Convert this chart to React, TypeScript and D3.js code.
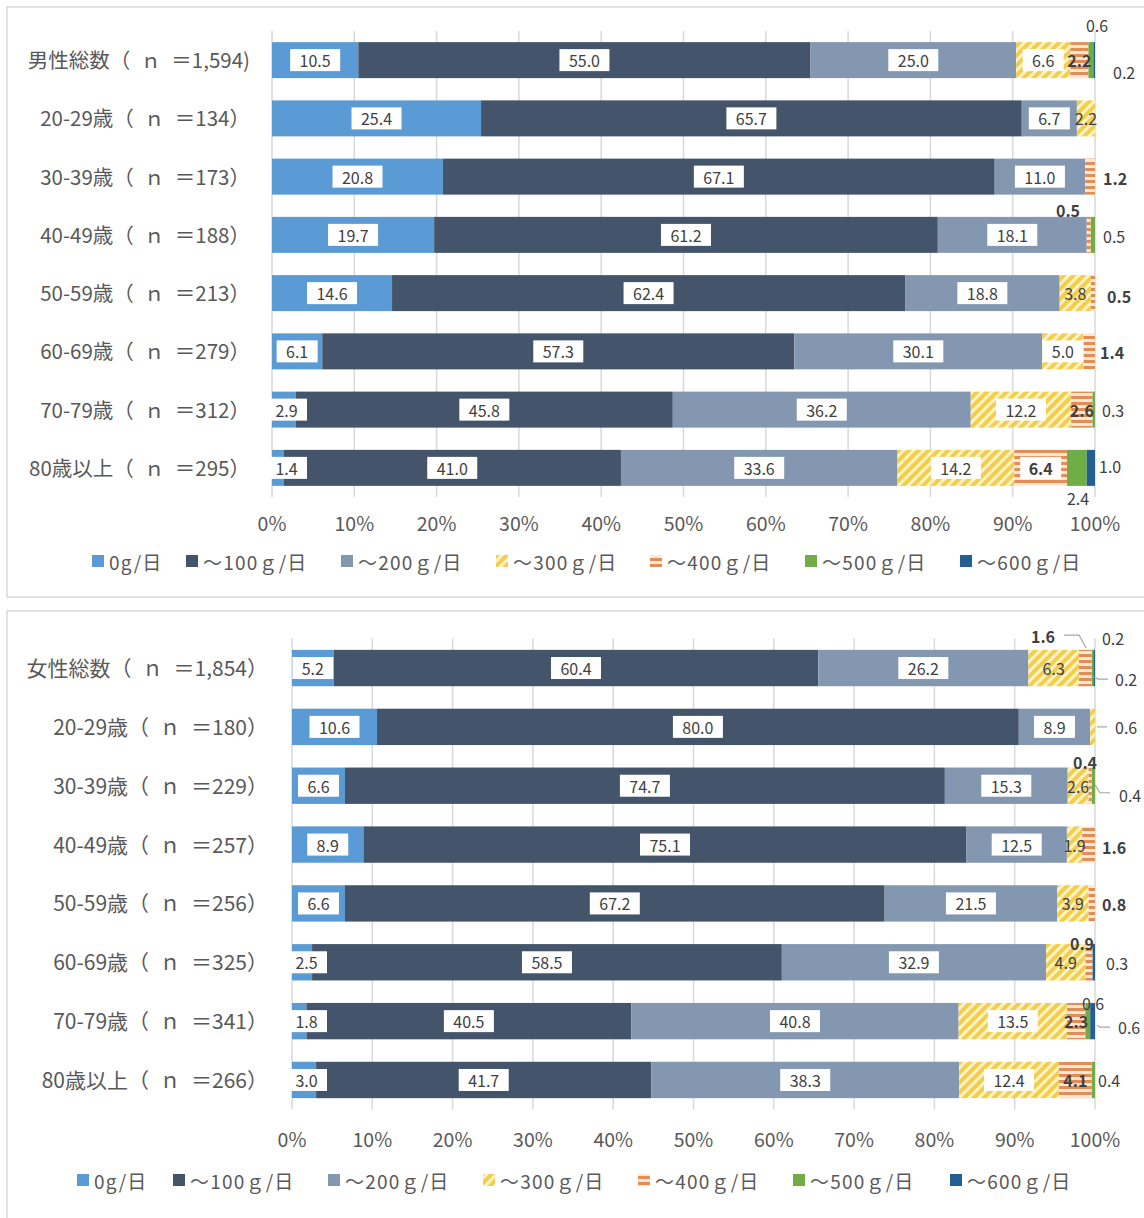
import React from "react";
import * as d3 from "d3";

const SERIES_NAMES = ["0g/日", "～100ｇ/日", "～200ｇ/日", "～300ｇ/日", "～400ｇ/日", "～500ｇ/日", "～600ｇ/日"];
const SERIES_FILLS = ["#5B9BD5", "#44546A", "#8497B0", "url(#pat300)", "url(#pat400)", "#70AD47", "#255E91"];
const TICK_LABELS = ["0%", "10%", "20%", "30%", "40%", "50%", "60%", "70%", "80%", "90%", "100%"];

const MEN_CATEGORIES = [
  "男性総数（\u2002ｎ\u2002＝1,594)",
  "20-29歳（\u2002ｎ\u2002＝134）",
  "30-39歳（\u2002ｎ\u2002＝173）",
  "40-49歳（\u2002ｎ\u2002＝188）",
  "50-59歳（\u2002ｎ\u2002＝213）",
  "60-69歳（\u2002ｎ\u2002＝279）",
  "70-79歳（\u2002ｎ\u2002＝312）",
  "80歳以上（\u2002ｎ\u2002＝295）",
];
const MEN_VALUES = [
  [10.5, 55.0, 25.0, 6.6, 2.2, 0.6, 0.2],
  [25.4, 65.7, 6.7, 2.2, 0, 0, 0],
  [20.8, 67.1, 11.0, 0, 1.2, 0, 0],
  [19.7, 61.2, 18.1, 0, 0.5, 0.5, 0],
  [14.6, 62.4, 18.8, 3.8, 0.5, 0, 0],
  [6.1, 57.3, 30.1, 5.0, 1.4, 0, 0],
  [2.9, 45.8, 36.2, 12.2, 2.6, 0.3, 0],
  [1.4, 41.0, 33.6, 14.2, 6.4, 2.4, 1.0],
];

const WOMEN_CATEGORIES = [
  "女性総数（\u2002ｎ\u2002＝1,854）",
  "20-29歳（\u2002ｎ\u2002＝180）",
  "30-39歳（\u2002ｎ\u2002＝229）",
  "40-49歳（\u2002ｎ\u2002＝257）",
  "50-59歳（\u2002ｎ\u2002＝256）",
  "60-69歳（\u2002ｎ\u2002＝325）",
  "70-79歳（\u2002ｎ\u2002＝341）",
  "80歳以上（\u2002ｎ\u2002＝266）",
];
const WOMEN_VALUES = [
  [5.2, 60.4, 26.2, 6.3, 1.6, 0.2, 0.2],
  [10.6, 80.0, 8.9, 0.6, 0, 0, 0],
  [6.6, 74.7, 15.3, 2.6, 0.4, 0.4, 0],
  [8.9, 75.1, 12.5, 1.9, 1.6, 0, 0],
  [6.6, 67.2, 21.5, 3.9, 0.8, 0, 0],
  [2.5, 58.5, 32.9, 4.9, 0.9, 0, 0.3],
  [1.8, 40.5, 40.8, 13.5, 2.3, 0.6, 0.6],
  [3.0, 41.7, 38.3, 12.4, 4.1, 0.4, 0],
];

// label styles: b = boxed, i = inside plain, x = external, - = none
const MEN_LABEL_MODES = [
  "bbbbixx", "bbbi---", "bbb-x--", "bbb-xx-", "bbbix--", "bbbbx--", "bbbbix-", "bbbbbxx",
];
const WOMEN_LABEL_MODES = [
  "bbbixxx", "bbbx---", "bbbixx-", "bbbix--", "bbbix--", "bbbix-x", "bbbbixx", "bbbbix-",
];

type Ext = { dx: number; dy: number; anchor: string; leader?: [number, number][] };
const MEN_EXT: Record<string, Ext> = {
  "0-5": { dx: 2, dy: -35, anchor: "middle" },
  "0-6": { dx: 18, dy: 12, anchor: "start" },
  "2-4": { dx: 8, dy: 1, anchor: "start" },
  "3-4": { dx: -27, dy: -25, anchor: "middle" },
  "3-5": { dx: 8, dy: 1, anchor: "start" },
  "4-4": { dx: 12, dy: 3, anchor: "start" },
  "5-4": { dx: 5, dy: 1, anchor: "start" },
  "6-5": { dx: 7, dy: 0, anchor: "start" },
  "7-5": { dx: -17, dy: 30, anchor: "middle" },
  "7-6": { dx: 4, dy: -2, anchor: "start" },
};
const WOMEN_EXT: Record<string, Ext> = {
  "0-4": { dx: -52, dy: -32, anchor: "middle", leader: [[-31, -33], [-16, -33], [-9, -20]] },
  "0-5": { dx: 18, dy: -30, anchor: "middle" },
  "0-6": { dx: 20, dy: 11, anchor: "start", leader: [[-1, 9], [3, 11], [13, 11]] },
  "1-3": { dx: 20, dy: 0, anchor: "start", leader: [[2, 0], [12, 0]] },
  "2-4": { dx: -10, dy: -24, anchor: "middle" },
  "2-5": { dx: 24, dy: 9, anchor: "start", leader: [[0, -1], [5, 7], [15, 7]] },
  "3-4": { dx: 7, dy: 2, anchor: "start" },
  "4-4": { dx: 7, dy: 1, anchor: "start" },
  "5-4": { dx: -13, dy: -19, anchor: "middle" },
  "5-6": { dx: 11, dy: 1, anchor: "start" },
  "6-5": { dx: -2, dy: -18, anchor: "middle" },
  "6-6": { dx: 23, dy: 6, anchor: "start", leader: [[2, 4], [5, 6], [15, 6]] },
  "7-5": { dx: 3, dy: 0, anchor: "start" },
};

const FONT = "'Noto Sans CJK JP', 'Noto Sans', sans-serif";
const fmt = d3.format(".1f");

type ChartProps = {
  cats: string[];
  values: number[][];
  modes: string[];
  ext: Record<string, Ext>;
  x0: number;
  x1: number;
  y0: number;
  y1: number;
  tickY: number;
  legendY: number;
  legendXs: number[];
  catRight: number;
  catSize: number;
};

function BarChart(p: ChartProps) {
  const x = d3.scaleLinear().domain([0, 100]).range([p.x0, p.x1]);
  const y = d3
    .scaleBand<number>()
    .domain(d3.range(p.cats.length))
    .range([p.y0, p.y1])
    .paddingInner(0.382)
    .paddingOuter(0.191);
  const rows = p.values.map((v) => {
    const t = d3.sum(v);
    return v.map((d) => (d / t) * 100);
  });
  const layers = d3
    .stack<number[], number>()
    .keys(d3.range(SERIES_NAMES.length))
    .value((d, k) => d[k])(rows);
  const bw = y.bandwidth();
  const labelEls: React.ReactNode[] = [];
  const leaderEls: React.ReactNode[] = [];
  layers.forEach((layer, s) => {
    layer.forEach((seg, r) => {
      const mode = p.modes[r][s];
      const v = p.values[r][s];
      if (mode === "-" || v === 0) return;
      const yc = (y(r) as number) + bw / 2;
      const txt = fmt(v);
      const bold = s === 4;
      const key = `${r}-${s}`;
      if (mode === "b" || mode === "i") {
        let cx = (x(seg[0]) + x(seg[1])) / 2;
        const w = txt.length * 9 + 14;
        if (mode === "b") {
          cx = Math.max(cx, p.x0 + w / 2 - 6);
          labelEls.push(
            <rect key={"r" + key} x={cx - w / 2} y={yc - 11} width={w} height={22} fill="#FFFFFF" />
          );
        }
        labelEls.push(
          <text
            key={"t" + key}
            x={cx}
            y={yc}
            textAnchor="middle"
            dominantBaseline="central"
            fontSize={16}
            fontWeight={bold ? 700 : 400}
            fill="#404040"
          >
            {txt}
          </text>
        );
      } else if (mode === "x") {
        const e = p.ext[key];
        if (!e) return;
        if (e.leader) {
          leaderEls.push(
            <polyline
              key={"l" + key}
              points={e.leader.map(([a, b]) => `${p.x1 + a},${yc + b}`).join(" ")}
              fill="none"
              stroke="#A6A6A6"
              strokeWidth={1.2}
            />
          );
        }
        labelEls.push(
          <text
            key={"t" + key}
            x={p.x1 + e.dx}
            y={yc + e.dy}
            textAnchor={e.anchor as any}
            dominantBaseline="central"
            fontSize={16}
            fontWeight={bold ? 700 : 400}
            fill="#404040"
          >
            {txt}
          </text>
        );
      }
    });
  });

  return (
    <g fontFamily={FONT}>
      {TICK_LABELS.map((t, i) => (
        <line
          key={"g" + i}
          x1={x(i * 10)}
          x2={x(i * 10)}
          y1={p.y0}
          y2={p.y1}
          stroke="#D9D9D9"
          strokeWidth={1.5}
        />
      ))}
      {layers.map((layer, s) => (
        <g key={"s" + s} fill={SERIES_FILLS[s]}>
          {layer.map((seg, r) =>
            seg[1] - seg[0] > 0 ? (
              <rect
                key={r}
                x={x(seg[0])}
                y={y(r) as number}
                width={x(seg[1]) - x(seg[0])}
                height={bw}
              />
            ) : null
          )}
        </g>
      ))}
      {leaderEls}
      {labelEls}
      {p.cats.map((c, r) => (
        <text
          key={"c" + r}
          x={p.catRight}
          y={(y(r) as number) + bw / 2 - 1}
          textAnchor="end"
          dominantBaseline="central"
          fontSize={p.catSize}
          fill="#595959"
        >
          {c}
        </text>
      ))}
      {TICK_LABELS.map((t, i) => (
        <text
          key={"k" + i}
          x={x(i * 10)}
          y={p.tickY}
          textAnchor="middle"
          dominantBaseline="central"
          fontSize={19.5}
          fill="#595959"
        >
          {t}
        </text>
      ))}
      {SERIES_NAMES.map((n, s) => (
        <g key={"lg" + s}>
          <rect x={p.legendXs[s]} y={p.legendY - 6} width={12} height={12} fill={SERIES_FILLS[s]} />
          <text
            x={p.legendXs[s] + 17}
            y={p.legendY}
            dominantBaseline="central"
            fontSize={19}
            letterSpacing={1.2}
            fill="#595959"
          >
            {n}
          </text>
        </g>
      ))}
    </g>
  );
}

export default function App() {
  return (
    <svg
      width={1144}
      height={1218}
      style={{ position: "absolute", left: 0, top: 0, background: "#FFFFFF" }}
    >
      <defs>
        <pattern id="pat300" patternUnits="userSpaceOnUse" width={7} height={7} patternTransform="rotate(45)">
          <rect width={7} height={7} fill="#FFF3C4" />
          <rect width={4} height={7} fill="#F2CD4E" />
        </pattern>
        <pattern id="pat400" patternUnits="userSpaceOnUse" width={6} height={6}>
          <rect width={6} height={6} fill="#FCE6D6" />
          <rect width={6} height={3} fill="#E28D55" />
        </pattern>
      </defs>
      <rect x={7} y={7} width={1150} height={590} fill="none" stroke="#D9D9D9" strokeWidth={1.5} />
      <rect x={7} y={611} width={1150} height={620} fill="none" stroke="#D9D9D9" strokeWidth={1.5} />
      <BarChart
        cats={MEN_CATEGORIES}
        values={MEN_VALUES}
        modes={MEN_LABEL_MODES}
        ext={MEN_EXT}
        x0={272}
        x1={1095}
        y0={31}
        y1={497}
        tickY={522}
        legendY={561}
        legendXs={[92, 186, 341, 496, 650, 805, 960]}
        catRight={250}
        catSize={20.5}
      />
      <BarChart
        cats={WOMEN_CATEGORIES}
        values={WOMEN_VALUES}
        modes={WOMEN_LABEL_MODES}
        ext={WOMEN_EXT}
        x0={292}
        x1={1095}
        y0={638.6}
        y1={1109.4}
        tickY={1138}
        legendY={1180}
        legendXs={[77, 173, 328, 483, 638, 793, 950]}
        catRight={268}
        catSize={21}
      />
    </svg>
  );
}
